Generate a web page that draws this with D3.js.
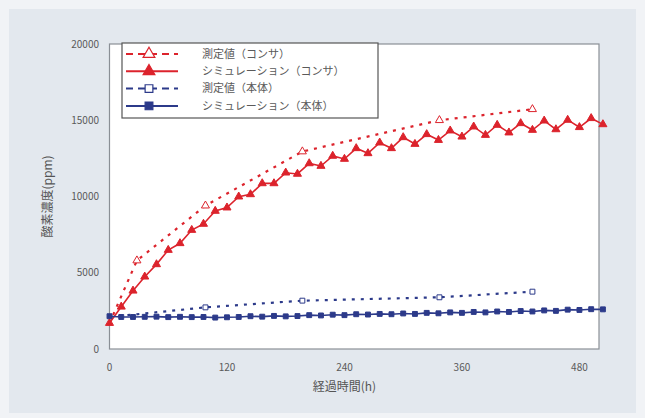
<!DOCTYPE html>
<html>
<head>
<meta charset="utf-8">
<script src="https://cdn.jsdelivr.net/npm/d3@7"></script>
<style>
  html, body { margin: 0; padding: 0; background: #f1f3f6; }
  svg { display: block; }
</style>
</head>
<body>
<svg id="chart"></svg>
<script>
// 時間軸（h）
const simHours = d3.range(0, 505, 12);
const measHoursConsa = [0, 28, 98, 197, 337, 432];
const measHoursBody = [0, 98, 197, 337, 432];

// 酸素濃度（ppm）
const measConsa = [1700, 5800, 9400, 12950, 15000, 15720];
const simConsa = [1700, 2770, 3820, 4740, 5550, 6490, 6930, 7800, 8200, 9050,
  9270, 9990, 10140, 10860, 10860, 11560, 11480, 12170, 12000, 12660,
  12460, 13160, 12830, 13530, 13160, 13880, 13440, 14080, 13700, 14320,
  13920, 14580, 14030, 14690, 14190, 14800, 14360, 14970, 14400, 15020,
  14540, 15130, 14730];
const measBody = [2100, 2730, 3170, 3390, 3760];
const simBody = [2150, 2100, 2100, 2110, 2120, 2090, 2110, 2090, 2100, 2060,
  2080, 2100, 2150, 2120, 2170, 2140, 2160, 2220, 2200, 2250,
  2220, 2280, 2260, 2300, 2280, 2330, 2300, 2370, 2340, 2400,
  2370, 2430, 2400, 2460, 2430, 2490, 2460, 2530, 2500, 2580,
  2560, 2610, 2600];

const xTicks = [0, 120, 240, 360, 480];
const yTicks = [0, 5000, 10000, 15000, 20000];
const legendLabels = ["測定値（コンサ）", "シミュレーション（コンサ）", "測定値（本体）", "シミュレーション（本体）"];

const width = 645, height = 418;
const red = "#dc232c", blue = "#2c3a8a";

const svg = d3.select("#chart")
  .attr("width", width)
  .attr("height", height)
  .style("font-family", "'Noto Sans CJK JP', 'DejaVu Sans', sans-serif");

// 背景パネル
svg.append("rect")
  .attr("x", 9).attr("y", 9)
  .attr("width", width - 18).attr("height", height - 14)
  .attr("fill", "#e3e8ee");

const x = d3.scaleLinear().domain([0, 500]).range([109.5, 599]);
const y = d3.scaleLinear().domain([0, 20000]).range([349, 44]);

// プロット領域
svg.append("rect")
  .attr("x", x(0)).attr("y", y(20000))
  .attr("width", x(500) - x(0)).attr("height", y(0) - y(20000))
  .attr("fill", "#fff")
  .attr("stroke", "#8a8f96")
  .attr("stroke-width", 1.2);

// 軸ラベル
svg.append("g")
  .selectAll("text")
  .data(xTicks)
  .join("text")
    .attr("x", d => x(d))
    .attr("y", 371)
    .attr("text-anchor", "middle")
    .attr("fill", "#5a5a5a")
    .style("font-size", "10px")
    .text(d => d);

svg.append("g")
  .selectAll("text")
  .data(yTicks)
  .join("text")
    .attr("x", 99)
    .attr("y", d => y(d))
    .attr("dy", "0.35em")
    .attr("text-anchor", "end")
    .attr("fill", "#5a5a5a")
    .style("font-size", "10px")
    .text(d => d);

svg.append("text")
  .attr("x", x(240))
  .attr("y", 391)
  .attr("text-anchor", "middle")
  .attr("fill", "#555")
  .style("font-size", "12px")
  .text("経過時間(h)");

svg.append("text")
  .attr("transform", `translate(52,${(y(0) + y(20000)) / 2}) rotate(-90)`)
  .attr("text-anchor", "middle")
  .attr("fill", "#555")
  .style("font-size", "12px")
  .text("酸素濃度(ppm)");

const line = d3.line().x(d => x(d[0])).y(d => y(d[1]));
const tri = d3.symbol().type(d3.symbolTriangle).size(28);
const sq = d3.symbol().type(d3.symbolSquare).size(24);

const series = [
  {hours: measHoursConsa, vals: measConsa, color: red, dash: "3,6", shape: tri, filled: false},
  {hours: simHours, vals: simConsa, color: red, dash: null, shape: tri, filled: true},
  {hours: measHoursBody, vals: measBody, color: blue, dash: "3,6", shape: sq, filled: false},
  {hours: simHours, vals: simBody, color: blue, dash: null, shape: sq, filled: true}
];

// 線とマーカー
series.forEach(s => {
  const pts = s.hours.map((h, i) => [h, s.vals[i]]);
  svg.append("path")
    .datum(pts)
    .attr("fill", "none")
    .attr("stroke", s.color)
    .attr("stroke-width", s.dash ? 2.2 : 1.6)
    .attr("stroke-dasharray", s.dash)
    .attr("d", line);
  svg.append("g")
    .selectAll("path")
    .data(s.filled ? pts : pts.slice(1))
    .join("path")
      .attr("transform", d => `translate(${x(d[0])},${y(d[1])})`)
      .attr("d", s.shape)
      .attr("fill", s.filled ? s.color : "#fff")
      .attr("stroke", s.color)
      .attr("stroke-width", 1);
});

// 凡例
const legend = svg.append("g");
legend.append("rect")
  .attr("x", 122).attr("y", 43)
  .attr("width", 256).attr("height", 75)
  .attr("fill", "#fff")
  .attr("stroke", "#555")
  .attr("stroke-width", 1.2);

legend.selectAll("g")
  .data(series)
  .join("g")
    .attr("transform", (d, i) => `translate(0,${54 + i * 17.3})`)
    .call(g => g.append("line")
        .attr("x1", 126).attr("x2", 178)
        .attr("stroke", d => d.color)
        .attr("stroke-width", 2)
        .attr("stroke-dasharray", d => d.dash ? "7,5" : null))
    .call(g => g.append("path")
        .attr("transform", "translate(149,0)")
        .attr("d", d => d.shape === tri
          ? d3.symbol().type(d3.symbolTriangle).size(60)()
          : d3.symbol().type(d3.symbolSquare).size(60)())
        .attr("fill", d => d.filled ? d.color : "#fff")
        .attr("stroke", d => d.color)
        .attr("stroke-width", 1.2))
    .call(g => g.append("text")
        .attr("x", 202)
        .attr("dy", "0.35em")
        .attr("fill", "#5a5a5a")
        .style("font-size", "11px")
        .text((d, i) => legendLabels[i]));
</script>
</body>
</html>
